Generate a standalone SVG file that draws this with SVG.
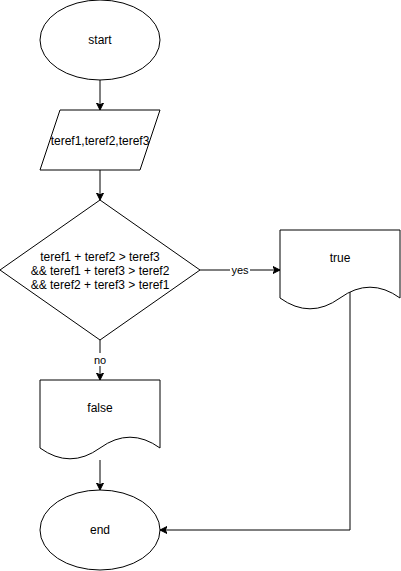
<svg xmlns="http://www.w3.org/2000/svg" width="401" height="571" viewBox="0 0 401 571">
<defs>
<style>
.s{fill:#fff;stroke:#000;stroke-width:1}
.t{font-family:"Liberation Sans",Arial,sans-serif;font-size:12px;fill:#000;text-anchor:middle}
.l{font-family:"Liberation Sans",Arial,sans-serif;font-size:11px;fill:#000;text-anchor:middle}
.c{fill:none;stroke:#000;stroke-width:1}
</style>
<marker id="a" markerWidth="8" markerHeight="8" refX="7" refY="4" orient="auto" markerUnits="userSpaceOnUse">
<path d="M0,0.5 L7,4 L0,7.5 L1.75,4 Z" fill="#000" stroke="#000" stroke-width="1"/>
</marker>
</defs>
<rect width="401" height="571" fill="#fff"/>
<g id="connectors">
<path class="c" d="M100,80 V110" marker-end="url(#a)"/>
<path class="c" d="M100,170 V200" marker-end="url(#a)"/>
<path class="c" d="M200,270 H280" marker-end="url(#a)"/>
<rect x="230" y="263" width="20" height="13" fill="#fff"/>
<text class="l" x="240" y="274">yes</text>
<path class="c" d="M100,340 V380" marker-end="url(#a)"/>
<rect x="93" y="353" width="14" height="13" fill="#fff"/>
<text class="l" x="100" y="364">no</text>
<path class="c" d="M100,460 V490" marker-end="url(#a)"/>
<path class="c" d="M350,292 V530 H160" marker-end="url(#a)"/>
</g>
<g id="start">
<ellipse class="s" cx="100" cy="40" rx="60" ry="40"/>
<text class="t" x="100" y="44">start</text>
</g>
<g id="input">
<path class="s" d="M60,110 H160 L140,170 H40 Z"/>
<text class="t" x="100" y="145">teref1,teref2,teref3</text>
</g>
<g id="decision">
<path class="s" d="M100,200 L200,270 L100,340 L0,270 Z"/>
<text class="t" x="100" y="261">teref1 + teref2 &gt; teref3</text>
<text class="t" x="100" y="275">&amp;&amp; teref1 + teref3 &gt; teref2</text>
<text class="t" x="100" y="289">&amp;&amp; teref2 + teref3 &gt; teref1</text>
</g>
<g id="true">
<path class="s" d="M280,230 H400 V298 Q370,276.4 340,298 Q310,319.6 280,298 Z"/>
<text class="t" x="340" y="262">true</text>
</g>
<g id="false">
<path class="s" d="M40,380 H160 V448 Q130,426.4 100,448 Q70,469.6 40,448 Z"/>
<text class="t" x="100" y="412">false</text>
</g>
<g id="end">
<ellipse class="s" cx="100" cy="530" rx="60" ry="40"/>
<text class="t" x="100" y="534">end</text>
</g>
</svg>
